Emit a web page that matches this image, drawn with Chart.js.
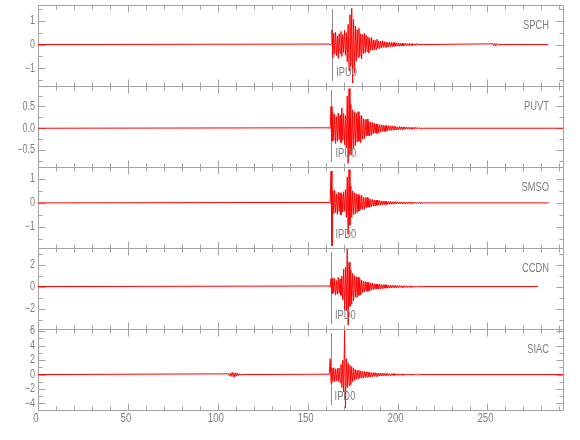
<!DOCTYPE html>
<html>
<head>
<meta charset="utf-8">
<script src="https://cdn.jsdelivr.net/npm/chart.js@4.4.0/dist/chart.umd.min.js"></script>
<style>
  html, body { margin: 0; padding: 0; background: #fff; }
</style>
</head>
<body>
<canvas id="seis" width="580" height="440"></canvas>
<script>
"use strict"

// stations, top panel first
const stations = ['SPCH', 'PUVT', 'SMSO', 'CCDN', 'SIAC'];
const phases = ['IPU0', 'IPU0', 'IPD0', 'IPD0', 'IPD0'];
const pickTimes = [163.6, 163.2, 163.2, 162.9, 162.7];
const traceEnds = [283.7, 292, 284, 278, 292];
const yMins = [-1.74, -0.89, -1.86, -3.85, -4.9];
const yMaxs = [1.66, 0.97, 1.48, 3.5, 6.3];
const yTickValues = [[1, 0, -1], [0.5, 0, -0.5], [1, 0, -1], [2, 0, -2], [6, 4, 2, 0, -2, -4]];
const majorSteps = [1, 0.5, 1, 2, 2];
const minorSteps = [0.5, 0.25, 0.5, 1, 1];
const xTicks = [0, 50, 100, 150, 200, 250];

// samples every 0.5 s starting at t = 162
const waveStart = 162;
const waveStep = 0.5;

const spchWave = [
    0.02, -0.02, 0.03, 0.62, -0.55, 0.48, -0.41, 0.52, -0.47, 0.36,
    -0.58, 0.45, -0.38, 0.55, -0.5, 0.42, -0.33, 0.6, -0.45, 0.5,
    -0.72, 0.85, -1.1, 1.25, -0.9, 1.52, -1.62, 1.05, -1.2, 0.78,
    -0.7, 0.62, -0.55, 0.68, -0.5, 0.45, -0.6, 0.42, -0.38, 0.48,
    -0.35, 0.4, -0.3, 0.33, -0.36, 0.28, -0.25, 0.3, -0.22, 0.2,
    -0.24, 0.18, -0.2, 0.22, -0.16, 0.15, -0.18, 0.14, -0.13, 0.16,
    -0.12, 0.13, -0.11, 0.1, -0.12, 0.09, -0.1, 0.11, -0.08, 0.09,
    -0.09, 0.08, -0.07, 0.09, -0.08, 0.07, -0.06, 0.07, -0.07, 0.06,
    -0.06, 0.05, -0.06, 0.05, -0.04, 0.05, -0.05, 0.04, -0.04, 0.05,
    -0.04, 0.03, -0.04, 0.04, -0.03, 0.03, -0.03, 0.04, -0.03, 0.03,
    -0.02, 0.02, -0.02, 0.02, 0
];
const puvtWave = [
    0.01, -0.01, 0.5, -0.3, 0.36, -0.28, 0.32, -0.35, 0.27, -0.3,
    0.35, -0.26, 0.3, -0.33, 0.46, -0.28, 0.34, -0.38, 0.29, -0.45,
    0.74, -0.81, 0.91, -0.6, 0.55, -0.62, 0.42, -0.45, 0.38, -0.4,
    0.35, -0.32, 0.38, -0.3, 0.28, -0.33, 0.3, -0.25, 0.22, -0.24,
    0.2, -0.18, 0.21, -0.17, 0.15, -0.18, 0.14, -0.16, 0.13, -0.12,
    0.12, -0.11, 0.1, -0.12, 0.09, -0.1, 0.08, -0.09, 0.08, -0.07,
    0.07, -0.08, 0.06, -0.07, 0.06, -0.05, 0.06, -0.05, 0.05, -0.05,
    0.05, -0.04, 0.05, -0.04, 0.04, -0.04, 0.03, -0.04, 0.04, -0.03,
    0.03, -0.03, 0.03, -0.03, 0.03, -0.02, 0.03, -0.02, 0.02, -0.02,
    0.02, -0.02, 0.02, -0.02, 0.02, -0.02, 0.02, -0.01, 0.02, -0.01,
    0.01, -0.01, 0.01, -0.01, 0
];
const smsoWave = [
    0.02, -0.02, 1.31, -1.77, 0.5, -0.45, 0.52, -0.4, 0.38, -0.48,
    0.44, -0.36, 0.42, -0.5, 0.36, -0.38, 0.46, -0.34, 0.55, -0.6,
    1.07, -1.3, 1.37, -0.92, 0.7, -0.6, 0.5, -0.48, 0.42, -0.45,
    0.38, -0.4, 0.35, -0.33, 0.3, -0.28, 0.32, -0.26, 0.24, -0.27,
    0.22, -0.2, 0.23, -0.18, 0.17, -0.19, 0.15, -0.16, 0.14, -0.13,
    0.12, -0.13, 0.11, -0.1, 0.11, -0.09, 0.1, -0.09, 0.08, -0.08,
    0.08, -0.07, 0.07, -0.07, 0.06, -0.06, 0.06, -0.05, 0.06, -0.05,
    0.05, -0.05, 0.05, -0.04, 0.05, -0.04, 0.04, -0.04, 0.04, -0.04,
    0.04, -0.03, 0.04, -0.03, 0.04, -0.03, 0.03, -0.03, 0.04, -0.03,
    0.03, -0.03, 0.03, -0.03, 0.03, -0.02, 0.03, -0.03, 0.02, -0.03,
    0.03, -0.02, 0.03, -0.02, 0
];
const ccdnWave = [
    0.05, -0.05, 0.7, -0.65, 0.8, -0.6, 0.72, -0.78, 0.55, -0.7,
    0.85, -0.62, 0.7, -0.8, 0.95, -1.2, 1.6, -2.1, 1.76, -2.2,
    3.4, -3.5, 2.2, -1.8, 1.5, -1.6, 1.2, -1.3, 1.0, -0.95,
    0.9, -1.0, 0.85, -0.8, 0.7, -0.75, 0.6, -0.55, 0.5, -0.48,
    0.45, -0.42, 0.4, -0.44, 0.36, -0.38, 0.34, -0.3, 0.32, -0.28,
    0.26, -0.25, 0.24, -0.22, 0.22, -0.2, 0.21, -0.19, 0.18, -0.2,
    0.17, -0.16, 0.18, -0.15, 0.15, -0.14, 0.13, -0.14, 0.12, -0.13,
    0.12, -0.11, 0.11, -0.1, 0.1, -0.1, 0.09, -0.1, 0.09, -0.08,
    0.08, -0.09, 0.08, -0.07, 0.08, -0.07, 0.07, -0.07, 0.06, -0.07,
    0.06, -0.06, 0.06, -0.05, 0.05, -0.06, 0.05, -0.05, 0.05, -0.04,
    0.04, -0.04, 0.04, -0.03, 0
];
const siacWave = [
    0.05, 2.2, -1.2, 0.9, -0.85, 0.95, -1.0, 0.8, -0.9, 0.85,
    -0.95, 0.9, -1.1, 1.4, -1.8, 2.0, -2.4, 6.1, -4.6, 2.2,
    -1.8, 1.6, -1.5, 1.3, -1.4, 1.1, -1.0, 0.9, -0.8, 0.7,
    -0.65, 0.6, -0.55, 0.58, -0.5, 0.52, -0.48, 0.45, -0.5, 0.42,
    -0.4, 0.38, -0.36, 0.4, -0.32, 0.3, -0.33, 0.28, -0.3, 0.26,
    -0.25, 0.27, -0.24, 0.22, -0.23, 0.21, -0.2, 0.22, -0.19, 0.18,
    -0.18, 0.17, -0.16, 0.17, -0.15, 0.14, -0.15, 0.13, -0.14, 0.12,
    -0.12, 0.13, -0.11, 0.12, -0.11, 0.1, -0.11, 0.1, -0.1, 0.09,
    -0.1, 0.09, -0.09, 0.08, -0.09, 0.08, -0.08, 0.08, -0.07, 0.08,
    -0.07, 0.07, -0.07, 0.06, -0.06, 0.07, -0.06, 0.06, -0.06, 0.05,
    -0.05, 0.05, -0.05, 0.04, 0
];

// small bursts of noise away from the main arrival
const spchBlobStart = 253;
const spchBlob = [0.03, -0.04, 0.05, -0.05, 0.04, -0.03, 0];
const siacBlobStart = 106;
const siacBlob = [0.1, -0.15, 0.2, -0.25, 0.3, -0.28, 0.25, -0.3, 0.22, -0.2, 0.18, -0.15, 0.12, -0.1, 0.08, -0.06, 0];

const waves = [spchWave, puvtWave, smsoWave, ccdnWave, siacWave];
const blobs = [[spchBlobStart, spchBlob], null, null, null, [siacBlobStart, siacBlob]];

const fontFamily = "'Liberation Sans', 'DejaVu Sans', sans-serif";
const axisGray = '#a3a3a3';
const textGray = '#7e7e7e';

function toPoints(start, values) {
    return values.map((v, k) => ({x: start + k * waveStep, y: v}));
}

const datasets = stations.map((name, i) => {
    let pts = [{x: 0, y: 0}];
    if (blobs[i] && blobs[i][0] < waveStart) pts = pts.concat(toPoints(blobs[i][0], blobs[i][1]));
    pts = pts.concat(toPoints(waveStart, waves[i]));
    if (blobs[i] && blobs[i][0] > waveStart) pts = pts.concat(toPoints(blobs[i][0], blobs[i][1]));
    pts.push({x: traceEnds[i], y: 0});
    return {
        label: name,
        data: pts,
        xAxisID: 'x',
        yAxisID: 'y' + i,
        borderColor: '#ff0000',
        borderWidth: 1,
        pointRadius: 0,
        tension: 0,
        fill: false
    };
});

const scales = {
    x: {
        type: 'linear',
        position: 'bottom',
        min: 0,
        max: 292,
        grid: {display: false, drawTicks: false},
        border: {display: false},
        afterBuildTicks: s => { s.ticks = xTicks.map(v => ({value: v})); },
        afterFit: s => { s.height = 30; },
        ticks: {display: false}
    }
};

stations.forEach((name, i) => {
    scales['y' + i] = {
        type: 'linear',
        position: 'left',
        stack: 'traces',
        stackWeight: 1,
        weight: stations.length - i,
        min: yMins[i],
        max: yMaxs[i],
        grid: {display: false, drawTicks: false},
        border: {display: false},
        afterBuildTicks: s => { s.ticks = yTickValues[i].map(v => ({value: v})); },
        afterFit: s => { s.width = 38; },
        ticks: {display: false}
    };
});

function tickText(v, i) {
    const s = majorSteps[i] < 1 ? v.toFixed(1) : String(Math.round(v));
    return s.replace('-', '\u2212');
}

// narrow plotter-style lettering
function narrowText(ctx, text, x, y, align, size, squeeze) {
    ctx.save();
    ctx.translate(x, y);
    ctx.scale(squeeze, 1);
    ctx.font = size + 'px ' + fontFamily;
    ctx.textAlign = align;
    ctx.textBaseline = 'middle';
    ctx.fillText(text, 0, 0);
    ctx.restore();
}

// IDL style frames: inward ticks on all four sides, pick marker and names
const framePlugin = {
    id: 'frames',
    beforeDatasetsDraw(chart) {
        const ctx = chart.ctx;
        const xs = chart.scales.x;
        const area = chart.chartArea;
        const l = Math.round(area.left) + 0.5;
        const r = Math.round(area.right) + 0.5;
        ctx.save();
        ctx.lineWidth = 1;
        stations.forEach((name, i) => {
            const ys = chart.scales['y' + i];
            const top = Math.round(ys.top) + 0.5;
            const bot = Math.round(ys.bottom) + 0.5;
            ctx.strokeStyle = axisGray;
            ctx.beginPath();
            ctx.rect(l, top, r - l, bot - top);
            for (let v = 0; v <= xs.max; v += 10) {
                const px = Math.round(xs.getPixelForValue(v)) + 0.5;
                const len = v % 50 === 0 ? 7 : 4;
                ctx.moveTo(px, top);
                ctx.lineTo(px, top + len);
                ctx.moveTo(px, bot);
                ctx.lineTo(px, bot - len);
            }
            const ms = minorSteps[i];
            for (let k = Math.ceil(ys.min / ms); k * ms <= ys.max; k++) {
                const v = k * ms;
                const py = Math.round(ys.getPixelForValue(v)) + 0.5;
                const q = v / majorSteps[i];
                const len = Math.abs(q - Math.round(q)) < 1e-6 ? 7 : 4;
                ctx.moveTo(l, py);
                ctx.lineTo(l + len, py);
                ctx.moveTo(r, py);
                ctx.lineTo(r - len, py);
            }
            ctx.stroke();

            const pk = Math.round(xs.getPixelForValue(pickTimes[i])) + 0.5;
            ctx.strokeStyle = '#8a8a8a';
            ctx.beginPath();
            ctx.moveTo(pk, ys.top + 4);
            ctx.lineTo(pk, ys.bottom - 5);
            ctx.stroke();
        });
        ctx.restore();
    },
    afterDatasetsDraw(chart) {
        const ctx = chart.ctx;
        const xs = chart.scales.x;
        const area = chart.chartArea;
        ctx.save();
        ctx.fillStyle = textGray;
        stations.forEach((name, i) => {
            const ys = chart.scales['y' + i];
            narrowText(ctx, name, area.right - 14, ys.top + 20, 'right', 13, 0.72);
            narrowText(ctx, phases[i], xs.getPixelForValue(pickTimes[i]) + 4, ys.top + 67, 'left', 13, 0.72);
            ys.ticks.forEach(t => {
                narrowText(ctx, tickText(t.value, i), area.left - 3, ys.getPixelForValue(t.value), 'right', 12, 0.75);
            });
        });
        xs.ticks.forEach(t => {
            narrowText(ctx, String(t.value), xs.getPixelForValue(t.value) - 2, area.bottom + 9, 'center', 12, 0.8);
        });
        ctx.restore();
    }
};

const config = {
    type: 'line',
    data: {datasets: datasets},
    options: {
        responsive: false,
        animation: false,
        devicePixelRatio: 1,
        layout: {padding: {left: 0, right: 17, top: 5, bottom: 0}},
        scales: scales,
        plugins: {
            legend: {display: false},
            tooltip: {enabled: false}
        }
    },
    plugins: [framePlugin]
};

const chart1 = new Chart(document.getElementById('seis').getContext('2d'), config);
</script>
</body>
</html>
